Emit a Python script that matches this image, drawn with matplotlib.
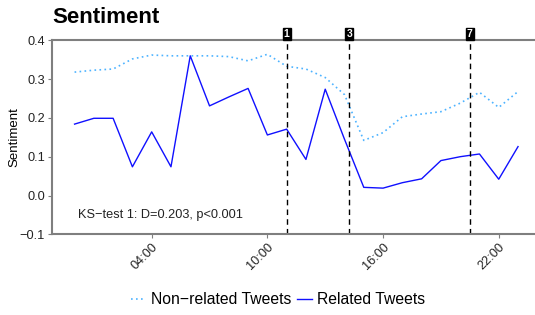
import matplotlib
matplotlib.use("Agg")
import matplotlib.pyplot as plt

plt.rcParams['font.family'] = ['Liberation Sans', 'DejaVu Sans']

hours = list(range(24))
related = [0.184, 0.199, 0.199, 0.074, 0.164, 0.074, 0.360, 0.231, 0.254, 0.276,
           0.156, 0.171, 0.093, 0.274, 0.145, 0.021, 0.019, 0.033, 0.043, 0.090,
           0.100, 0.107, 0.042, 0.126]
nonrelated = [0.318, 0.323, 0.326, 0.352, 0.362, 0.360, 0.360, 0.360, 0.358, 0.347,
              0.364, 0.333, 0.326, 0.304, 0.260, 0.142, 0.162, 0.203, 0.210, 0.216,
              0.238, 0.266, 0.227, 0.268]
event_pos = [11.0, 14.25, 20.5]
event_labels = ["1", "3", "7"]
xtick_pos = [4, 10, 16, 22]
xtick_labels = ["04:00", "10:00", "16:00", "22:00"]
ytick_pos = [-0.1, 0.0, 0.1, 0.2, 0.3, 0.4]
ytick_labels = ["\u22120.1", "0.0", "0.1", "0.2", "0.3", "0.4"]

fig = plt.figure(figsize=(5.35, 3.15), dpi=100)
ax = fig.add_axes([52/535, 1-234.3/315, 1-52/535, (234.3-40.3)/315])

l1, = ax.plot(hours, nonrelated, color="#4DB3FF", lw=1.2, linestyle=(0, (1, 2)),
              label="Non\u2212related Tweets")
l2, = ax.plot(hours, related, color="#1010FF", lw=1.0, label="Related Tweets")

for xp, lab in zip(event_pos, event_labels):
    ax.axvline(xp, color="black", lw=1.0, linestyle=(0, (4, 3)))
    ax.text(xp, 0.4 + 0.0035, lab, color="white", fontsize=7.5, fontweight="bold",
            ha="center", va="bottom",
            bbox=dict(boxstyle="square,pad=0.12", fc="black", ec="black"),
            transform=ax.transData, clip_on=False)

ax.set_xlim(-1.17, 23.88)
ax.set_ylim(-0.1, 0.4)
ax.set_xticks(xtick_pos)
ax.set_xticklabels(xtick_labels, rotation=45, ha="right", rotation_mode="anchor",
                   fontsize=9.2, color="#222222")
ax.set_yticks(ytick_pos)
ax.set_yticklabels(ytick_labels, fontsize=9.2, color="#222222")
ax.tick_params(axis="both", length=3, width=0.8, color="#7f7f7f", pad=2)

for side in ["left", "bottom", "top"]:
    ax.spines[side].set_color("#7f7f7f")
    ax.spines[side].set_linewidth(1.5)
ax.spines["right"].set_visible(False)

ax.set_ylabel("Sentiment", fontsize=9.5)
ax.yaxis.label.set_va("center")
ax.yaxis.set_label_coords((14 - 52) / 483, 0.5)
ax.text(4.46, -0.05, "KS\u2212test 1: D=0.203, p<0.001", fontsize=9.2, ha="center",
        va="center", color="#222222")

fig.text(52/535, 1-7/315, "Sentiment", fontsize=16, fontweight="bold", ha="left", va="top")

fig.legend(handles=[l1, l2], loc="center", bbox_to_anchor=(0.52, 0.048), ncol=2,
           frameon=False, fontsize=11.3, handlelength=0.9, handletextpad=0.35,
           columnspacing=0.4)

fig.savefig("out.png", dpi=100)
